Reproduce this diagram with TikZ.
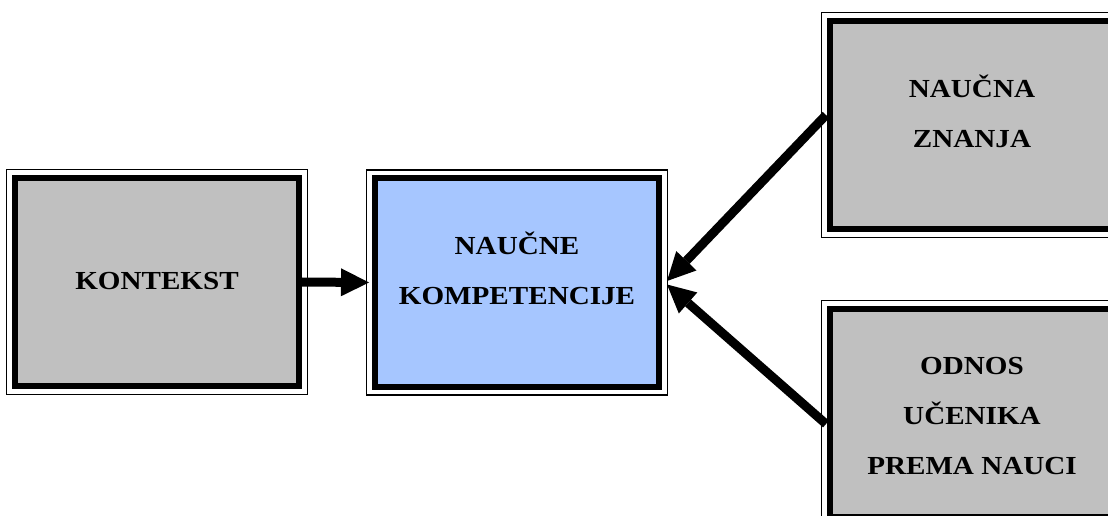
\documentclass[tikz,border=0pt]{standalone}
\usepackage{fontspec}
\setmainfont{Liberation Serif}[FakeStretch=1.12]
\usetikzlibrary{arrows.meta,calc}
\definecolor{boxgray}{RGB}{192,192,192}
\definecolor{boxblue}{RGB}{166,198,255}
\tikzset{
  panel/.style={draw=black, line width=6bp, inner sep=0pt,
                minimum width=284bp, minimum height=208bp},
  frame/.style={draw=black, line width=1.2bp},
  caption/.style={font=\bfseries\fontsize{26bp}{50bp}\selectfont,
                  align=center, anchor=base, inner sep=0pt},
  flow/.style={line width=9bp,
               -{Triangle[length=28bp,width=28bp,line width=0pt]}},
}
\begin{document}
\begin{tikzpicture}[x=1bp,y=-1bp]
\useasboundingbox (0,0) rectangle (1108,516);
\clip (0,0) rectangle (1108,516);

% boxes with a thick border
\node[panel, fill=boxgray] (kontekst)     at (157,282)   {};
\node[panel, fill=boxblue] (kompetencije) at (517,282.5) {};
\node[panel, fill=boxgray] (znanja)       at (972,125)   {};
\node[panel, fill=boxgray] (odnos)        at (972,413)   {};

% thin outer frame around each box
\foreach \n in {kontekst,kompetencije,znanja,odnos}
  \draw[frame] ($(\n.north west)+(-5.5,-5.5)$) rectangle ($(\n.south east)+(5.5,5.5)$);

% box captions (anchored at the baseline of the last line)
\node[caption] (t-kontekst)     at (157,290) {KONTEKST};
\node[caption] (t-kompetencije) at (517,305) {NAUČNE\\KOMPETENCIJE};
\node[caption] (t-znanja)       at (972,148) {NAUČNA\\ZNANJA};
\node[caption] (t-odnos)        at (972,474) {ODNOS\\UČENIKA\\PREMA NAUCI};

% connectors
\draw[flow] (kontekst.east) -- ($(kompetencije.west)+(-3,0)$);
\draw[flow] ($(znanja.west)+(-1,-10)$) -- ($(kompetencije.east)+(5,-1.5)$);
\draw[flow] ($(odnos.west)+(-1,11)$) -- ($(kompetencije.east)+(5,2)$);
\end{tikzpicture}
\end{document}
